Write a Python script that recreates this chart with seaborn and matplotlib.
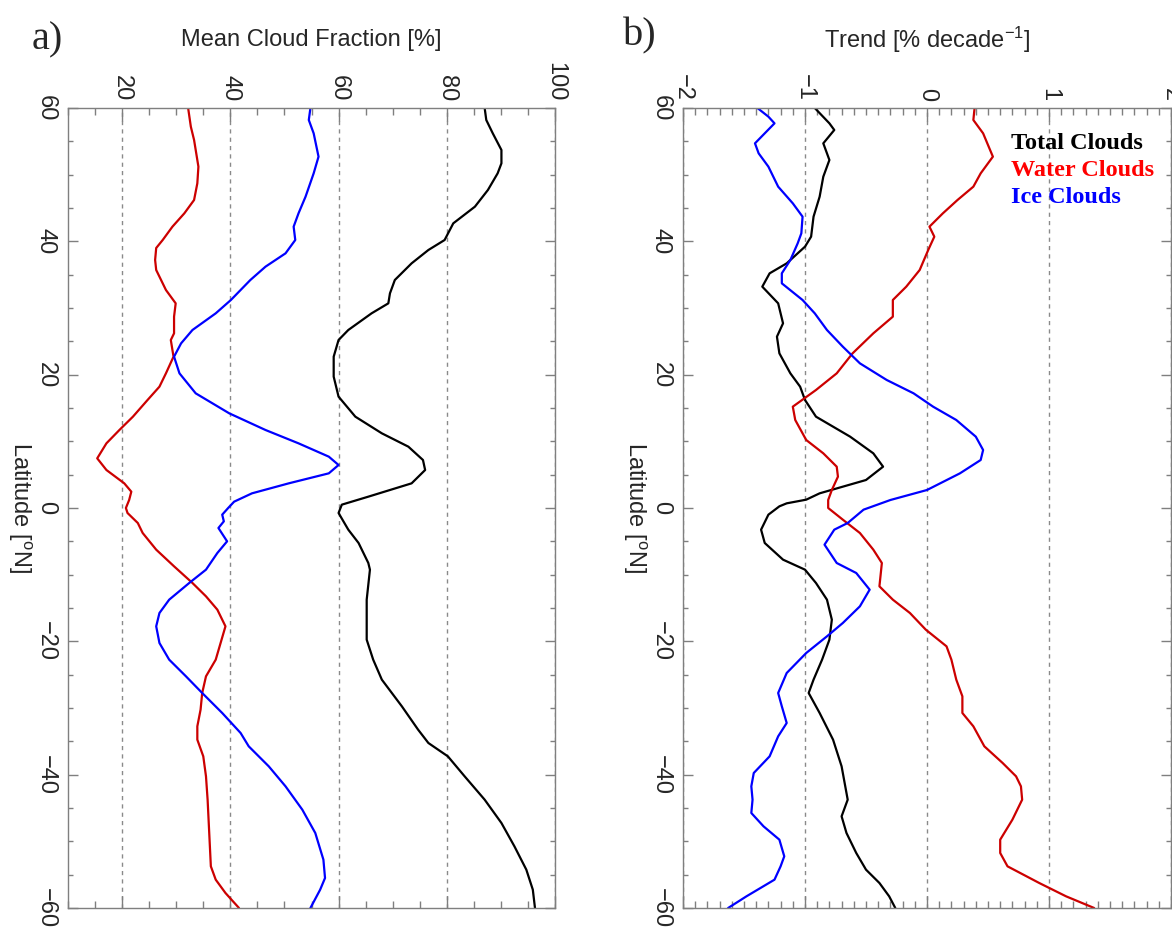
import numpy as np
import pandas as pd
import seaborn as sns
import matplotlib
matplotlib.use("Agg")
import matplotlib.pyplot as plt
from matplotlib.ticker import MultipleLocator
from matplotlib.lines import Line2D

# ---------------- data ----------------
# Panel a: mean cloud fraction [%]
a_total_lat = [60, 58.2, 56.2, 53.7, 51.7, 50.2, 47.7, 45.2, 42.7, 40.2, 38.7, 36.7, 34.2, 32.2, 30.7,
               29.2, 26.7, 25.2, 22.7, 19.7, 16.7, 13.7, 11.2, 9.2, 7.2, 5.7, 3.7, 1.7, 0.5, -0.75,
               -3.25, -5.25, -8.25, -9.25, -13.75, -19.75, -22.75, -25.75, -29.75, -33.25,
               -35.25, -37.25, -40.25, -43.75, -47.25, -50.75, -54.25, -57.25, -60]
a_total_val = [87.0, 87.3, 88.5, 90.1, 90.1, 89.4, 87.6, 85.2, 81.2, 79.6, 76.6, 73.5, 70.4, 69.5, 69.2,
               66.1, 61.8, 60.0, 59.1, 59.1, 60.0, 63.1, 68.0, 72.9, 75.6, 76.0, 73.5, 65.5, 60.6, 60.0,
               61.8, 63.7, 65.5, 65.8, 65.2, 65.2, 66.4, 68.0, 71.7, 74.7,
               76.6, 80.2, 83.3, 87.0, 90.1, 92.5, 94.7, 95.9, 96.3]

a_water_lat = [60, 57.2, 55.2, 51.2, 48.7, 46.2, 44.2, 42.2, 40.2, 39, 37.2, 35.7, 34.7, 32.7, 30.7,
               28.7, 26.2, 25.2, 22.7, 20.2, 18.2, 16.2, 13.7, 11.7, 9.7, 7.45, 5.7, 3.7, 2.45, 1.2,
               0, -0.75, -2.25, -3.75, -6.25, -8.75, -11.25, -13.25, -15.25, -17.75,
               -20.25, -22.75, -25.25, -27.75, -30.25, -32.75, -34.75, -37.25, -40.25, -43.75,
               -48.75, -53.75, -55.75, -57.75, -60]
a_water_val = [32.2, 32.7, 33.3, 34.1, 33.9, 33.3, 31.5, 29.3, 27.5, 26.3, 26.1, 26.3, 26.9, 28.1, 29.9,
               29.6, 29.6, 29.0, 29.5, 28.1, 26.9, 24.7, 22.0, 19.5, 17.1, 15.4, 17.1, 20.4, 21.7, 21.3,
               20.7, 21.0, 22.9, 23.8, 26.3, 29.6, 33.0, 35.5, 37.6, 39.1,
               38.2, 37.3, 35.5, 34.8, 34.5, 33.9, 33.9, 35.0, 35.5, 35.8,
               36.1, 36.4, 37.3, 39.1, 41.6]

a_ice_lat = [60, 58.2, 56.2, 52.7, 50.2, 46.7, 44.2, 42.2, 40.2, 38.2, 36.2, 34.2, 31.2, 29.2, 26.7,
             24.7, 22.7, 20.2, 17.2, 14.2, 11.7, 9.7, 7.7, 6.45, 5.2, 3.7, 2.2, 0.95, 0, -1,
             -2, -3, -5, -6.75, -9.25, -11.25, -13.75, -15.75, -17.75, -20.25,
             -22.75, -25.25, -27.75, -30.75, -33.75, -35.75, -38.75, -41.75, -45.25, -48.75,
             -52.75, -55.5, -57.25, -60]
a_ice_val = [54.8, 54.5, 55.4, 56.3, 55.4, 53.9, 52.6, 51.7, 52.0, 50.2, 46.5, 43.7, 40.1, 37.3, 33.0,
             30.9, 29.6, 30.6, 33.6, 39.8, 46.5, 52.6, 58.2, 60.0, 58.2, 50.8, 44.0, 40.7, 39.6, 38.5,
             38.8, 37.8, 39.4, 37.6, 35.5, 32.4, 28.7, 26.9, 26.3, 26.9,
             28.7, 31.8, 34.8, 38.5, 41.9, 43.4, 47.1, 50.2, 53.3, 55.7,
             57.2, 57.5, 56.6, 54.8]

# Panel b: trend [% per decade]
b_total_lat = [60, 57.7, 56.7, 54.7, 52.2, 49.7, 46.7, 43.7, 40.7, 39.2, 36.7, 35.2, 33.2, 30.7, 27.7,
               25.7, 23.2, 20.2, 18.2, 16.2, 13.7, 10.7, 8.2, 6.2, 4.2, 2.2, 1.25, 0.7, 0.25, -1,
               -3.25, -5.25, -7.75, -9.25, -11.25, -13.75, -16.75, -19.75, -22.75, -25.75,
               -27.75, -30.75, -34.75, -38.75, -43.75, -46.25, -48.75, -51.75, -54.25, -56.25,
               -58.25, -60]
b_total_val = [-0.92, -0.80, -0.76, -0.85, -0.80, -0.85, -0.88, -0.93, -0.95, -1.00, -1.15, -1.29, -1.35, -1.22, -1.18,
               -1.23, -1.21, -1.12, -1.04, -1.00, -0.91, -0.63, -0.44, -0.36, -0.50, -0.88, -0.99, -1.15, -1.21, -1.30,
               -1.36, -1.33, -1.18, -1.00, -0.91, -0.82, -0.78, -0.80, -0.86, -0.93,
               -0.97, -0.88, -0.77, -0.70, -0.65, -0.70, -0.66, -0.58, -0.50, -0.39,
               -0.31, -0.26]

b_water_lat = [60, 58.2, 56.2, 52.7, 50.2, 48.2, 46.2, 44.2, 42.2, 40.7, 38.7, 35.7, 33.2, 31.2, 28.7,
               26.2, 23.2, 20.2, 17.7, 15.2, 13.2, 10.2, 8.2, 6.2, 4.7, 2.7, 1.2, 0, -1.75, -3.75,
               -6.25, -8.25, -11.75, -13.75, -15.75, -18.25, -20.75, -22.75, -25.75, -28.25,
               -30.75, -32.75, -35.75, -38.25, -40.25, -41.75, -43.75, -46.75, -49.75, -51.75,
               -53.75, -56.25, -58.25, -60]
b_water_val = [0.39, 0.38, 0.46, 0.54, 0.44, 0.38, 0.25, 0.13, 0.02, 0.06, 0.01, -0.06, -0.17, -0.28, -0.28,
               -0.44, -0.61, -0.74, -0.91, -1.10, -1.08, -0.99, -0.85, -0.74, -0.73, -0.78, -0.81, -0.81, -0.69, -0.55,
               -0.44, -0.37, -0.39, -0.28, -0.14, -0.01, 0.16, 0.20, 0.24, 0.29,
               0.29, 0.38, 0.47, 0.62, 0.73, 0.77, 0.78, 0.70, 0.60, 0.60,
               0.66, 0.92, 1.14, 1.37]

b_ice_lat = [60, 58.7, 57.7, 56.2, 54.7, 53.2, 51.2, 48.2, 45.7, 43.7, 41.2, 39.7, 37.2, 35.2, 33.7,
             31.2, 29.2, 26.7, 24.2, 21.7, 19.2, 17.2, 15.2, 13.2, 10.7, 8.7, 7.2, 5.2, 2.7, 1.2,
             -0.25, -2.25, -3.25, -5.5, -8.25, -9.75, -12.25, -14.75, -17.25, -19.25,
             -21.75, -24.75, -27.75, -29.75, -32.25, -34.25, -37.25, -39.75, -41.75, -43.75,
             -45.75, -47.75, -49.75, -52.25, -53.75, -55.75, -58.25, -60]
b_ice_val = [-1.39, -1.30, -1.25, -1.33, -1.41, -1.38, -1.30, -1.22, -1.10, -1.02, -1.03, -1.06, -1.12, -1.19, -1.19,
             -1.02, -0.92, -0.82, -0.69, -0.55, -0.33, -0.11, 0.05, 0.24, 0.40, 0.46, 0.44, 0.27, 0.00, -0.30,
             -0.52, -0.65, -0.76, -0.84, -0.74, -0.58, -0.47, -0.55, -0.69, -0.82,
             -0.99, -1.15, -1.22, -1.19, -1.15, -1.22, -1.29, -1.42, -1.44, -1.43,
             -1.44, -1.34, -1.21, -1.17, -1.20, -1.25, -1.48, -1.63]

legend_labels = ["Total Clouds", "Water Clouds", "Ice Clouds"]
line_colors = ["#000000", "#cc0000", "#0000ff"]
legend_colors = ["#000000", "#ff0000", "#0000ff"]

lat_ticks = [-60, -40, -20, 0, 20, 40, 60]
a_ticks = [20, 40, 60, 80, 100]
b_ticks = [-2, -1, 0, 1, 2]

# ---------------- style ----------------
sns.set_style("ticks")
plt.rcParams["font.family"] = ["Liberation Sans", "DejaVu Sans"]
plt.rcParams["mathtext.fontset"] = "custom"
plt.rcParams["mathtext.rm"] = "Liberation Sans"
plt.rcParams["mathtext.it"] = "Liberation Sans:italic"

W, H = 1172, 930
fig = plt.figure(figsize=(W / 100, H / 100), dpi=100)
fig.patch.set_facecolor("white")
axA = fig.add_axes([68 / W, 22 / H, 487 / W, 800 / H])
axB = fig.add_axes([683 / W, 22 / H, 488 / W, 800 / H])

GREY = "#7f7f7f"


def draw(ax, series):
    for (lat, val), col in zip(series, line_colors):
        df = pd.DataFrame({"lat": lat, "val": val})
        sns.lineplot(data=df, x="val", y="lat", orient="y", sort=False, estimator=None,
                     color=col, lw=1.6, ax=ax, legend=False)


draw(axA, [(a_total_lat, a_total_val), (a_water_lat, a_water_val), (a_ice_lat, a_ice_val)])
draw(axB, [(b_total_lat, b_total_val), (b_water_lat, b_water_val), (b_ice_lat, b_ice_val)])

axA.set_xlim(10, 100)
axB.set_xlim(-2, 2)
axA.set_xticks(a_ticks)
axB.set_xticks(b_ticks)
axA.xaxis.set_minor_locator(MultipleLocator(5))
axB.xaxis.set_minor_locator(MultipleLocator(0.1))

for ax in (axA, axB):
    ax.set_ylim(-60, 60)
    ax.set_yticks(lat_ticks)
    ax.yaxis.set_minor_locator(MultipleLocator(5))
    ax.set_xlabel("")
    ax.set_ylabel("")
    for sp in ax.spines.values():
        sp.set_visible(True)
        sp.set_color(GREY)
        sp.set_linewidth(1.0)
    ax.tick_params(axis="x", which="both", top=True, bottom=True, labeltop=True,
                   labelbottom=False, direction="in", color=GREY, width=1.0,
                   labelrotation=-90, labelsize=17, pad=5)
    ax.tick_params(axis="x", which="major", length=9)
    ax.tick_params(axis="x", which="minor", length=5)
    ax.tick_params(axis="y", which="both", left=True, right=True, labelleft=True,
                   labelright=False, direction="in", color=GREY, width=1.0,
                   labelrotation=-90, labelsize=17, pad=8)
    ax.tick_params(axis="y", which="major", length=7.5)
    ax.tick_params(axis="y", which="minor", length=3.8)
    for lbl in ax.get_yticklabels():
        lbl.set_va("center")
    ax.xaxis.grid(True, which="major", linestyle=(0, (3, 3)), color="#8a8a8a", lw=1.0)
    ax.yaxis.grid(False)
    ax.set_ylabel("Latitude [$^{\\rm o}$N]", rotation=-90, fontsize=17, va="center", ha="center")
    ax.yaxis.set_label_coords(-0.10, 0.5)

axA.set_title("Mean Cloud Fraction [%]", fontsize=17, y=1.085, pad=0, va="center")
axB.set_title("Trend [% decade$^{-1}$]", fontsize=17, y=1.085, pad=0, va="center")

fig.text(47 / W, 1 - 40 / H, "a)", family="Liberation Serif", fontsize=29, ha="center", va="center")
fig.text(640 / W, 1 - 36 / H, "b)", family="Liberation Serif", fontsize=29, ha="center", va="center")

handles = [Line2D([], [], color=c, lw=0) for c in legend_colors]
leg = axB.legend(handles, legend_labels, loc="upper left", bbox_to_anchor=(0.628, 0.997),
                 frameon=False, handlelength=0, handletextpad=0, labelspacing=0.2,
                 labelcolor=legend_colors,
                 prop={"family": "Liberation Serif", "weight": "bold", "size": 17.5})

fig.savefig("out.png", dpi=100, facecolor="white")
